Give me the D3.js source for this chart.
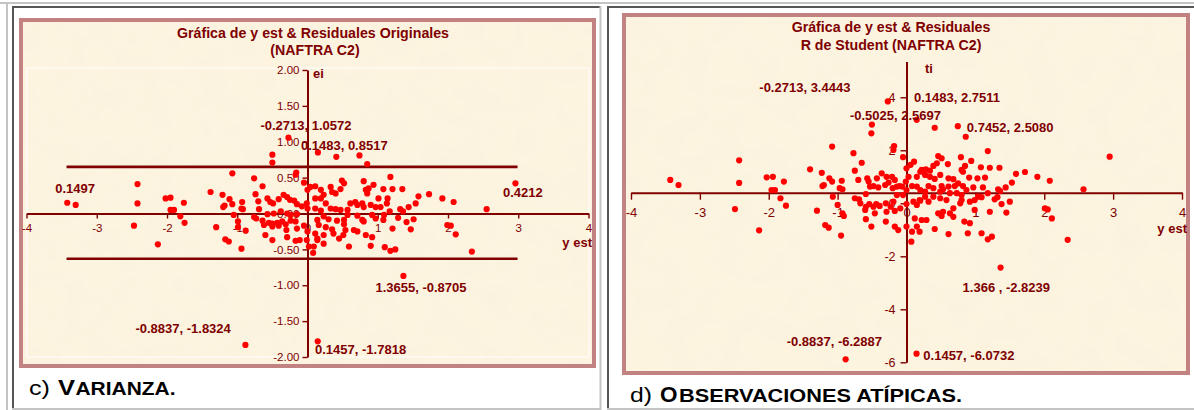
<!DOCTYPE html>
<html>
<head>
<meta charset="utf-8">
<script src="https://cdn.jsdelivr.net/npm/d3@7/dist/d3.min.js"></script>
<style>
  html, body { margin: 0; padding: 0; background: #ffffff; }
  svg { display: block; }
  text { font-family: "Liberation Sans", Arial, Helvetica, sans-serif; }
</style>
</head>
<body>
<svg id="page" width="1194" height="410"></svg>
<script>
// ---------------- data ----------------
const xTicks = [-4, -3, -2, -1, 0, 1, 2, 3, 4];
const residTicks = [-2, -1.5, -1, -0.5, 0, 0.5, 1, 1.5, 2];
const studentTicks = [-6.4, -4.4, -2.4, -0.4, 1.6, 3.6];
const residLimits = [0.65, -0.63];
const limitSpan = [-3.43, 2.99];

// y est vs ei (original residuals)
const residPts = [
  [-0.50,0.82],[-0.50,0.71],[-0.2713,1.0572],[0.1483,0.8517],[0.41,0.79],[0.74,0.81],[0.85,0.69],
  [-1.07,0.56],[-0.76,0.49],[-0.64,0.38],[-1.38,0.30],[-1.21,0.26],[-1.11,0.20],[-0.93,0.16],[-1.18,0.11],[-1.20,0.09],
  [-1.07,0.13],[-0.94,0.07],[-0.92,0.06],[-1.05,-0.02],[-0.99,-0.11],[-0.99,-0.19],[-0.88,-0.24],[-1.30,-0.19],
  [-1.17,-0.36],[-1.12,-0.39],[-0.94,-0.49],
  [-2.02,0.21],[-1.95,0.22],[-1.76,0.15],[-1.95,0.05],[-1.90,0.05],[-1.81,-0.04],[-1.75,-0.13],[-2.13,-0.43],
  [-0.74,0.27],[-0.70,0.17],[-0.57,0.21],[-0.53,0.16],[-0.49,0.14],[-0.41,0.20],[-0.34,0.26],[-0.29,0.23],[-0.25,0.19],
  [-0.19,0.18],[-0.15,0.13],[-0.16,0.57],[-0.17,0.54],[-0.05,0.43],
  [-0.69,0.06],[-0.57,-0.01],[-0.48,0.00],[-0.38,0.03],[-0.29,0.00],[-0.24,-0.02],[-0.15,-0.01],[-0.08,0.10],[-0.01,0.14],[0.00,0.07],
  [-0.76,-0.05],[-0.73,-0.07],[-0.64,-0.10],[-0.62,-0.16],[-0.55,-0.13],[-0.50,-0.14],[-0.43,-0.13],[-0.36,-0.11],
  [-0.31,-0.15],[-0.24,-0.10],[-0.17,-0.11],
  [-0.50,-0.18],[-0.41,-0.17],[-0.30,-0.23],[-0.15,-0.21],[-0.05,-0.17],
  [-0.60,-0.30],[-0.50,-0.37],[-0.29,-0.33],[-0.17,-0.38],[-0.11,-0.37],[-0.01,-0.37],[0.02,-0.46],[0.08,-0.55],
  [0.00,-0.25],[0.09,-0.46],[0.14,-0.37],[0.11,-0.28],
  [0.00,0.33],[0.04,0.37],[0.11,0.38],[0.19,0.33],[0.23,0.26],[0.33,0.37],[0.35,0.30],[0.40,0.28],[0.47,0.34],[0.49,0.46],[0.52,0.42],
  [0.11,0.21],[0.19,0.21],[0.26,0.14],[0.11,0.07],[0.19,0.04],[0.33,0.07],[0.40,0.06],[0.47,0.05],[0.57,0.05],[0.61,0.14],
  [0.14,-0.09],[0.23,-0.04],[0.30,-0.08],[0.42,-0.10],[0.52,-0.09],[0.57,-0.02],
  [0.16,-0.16],[0.26,-0.19],[0.35,-0.22],[0.52,-0.15],[0.54,-0.23],[0.51,-0.30],[0.45,-0.35],[0.37,-0.28],[0.23,-0.30],
  [0.14,-0.35],[0.23,-0.42],[0.59,-0.46],
  [0.83,0.33],[0.87,0.35],[0.85,0.28],[1.08,0.34],[1.21,0.34],[1.35,0.34],[1.58,0.24],[1.73,0.27],[1.92,0.21],[2.08,0.16],
  [0.68,0.16],[0.78,0.14],[0.71,0.12],[0.80,0.09],[0.90,0.12],[0.97,0.09],[1.04,0.09],[1.13,0.14],[1.17,0.03],[1.01,0.21],[1.14,0.21],
  [1.32,0.06],[1.36,0.03],[1.44,0.09],[1.54,0.14],[2.55,0.06],[2.96,0.4212],
  [0.80,0.45],[0.94,0.40],[1.18,0.51],
  [0.71,-0.03],[0.78,-0.09],[0.80,-0.11],[0.92,-0.02],[0.97,-0.07],[1.08,-0.09],[1.09,-0.02],[1.29,-0.06],[1.41,-0.12],
  [1.51,-0.08],[1.47,-0.22],[1.21,-0.21],
  [0.66,-0.23],[0.71,-0.25],[0.83,-0.30],[0.92,-0.33],[0.90,-0.45],[1.10,-0.47],[1.18,-0.52],[1.25,-0.50],
  [1.99,-0.16],[2.04,-0.17],[2.11,-0.29],[2.34,-0.53],
  [-3.42,0.1497],[-3.30,0.12],[-2.42,0.41],[-2.42,0.14],[-2.47,-0.17],
  [1.3655,-0.8705],[-0.8837,-1.8324],[0.1457,-1.7818]
];
const residNotes = [
  [-0.2713, 1.0572, "-0.2713, 1.0572"],
  [0.1483, 0.8517, "0.1483, 0.8517"],
  [-3.42, 0.1497, "0.1497"],
  [2.96, 0.4212, "0.4212"],
  [1.3655, -0.8705, "1.3655, -0.8705"],
  [-0.8837, -1.8324, "-0.8837, -1.8324"],
  [0.1457, -1.7818, "0.1457, -1.7818"]
];

// y est vs ti (studentized residuals)
const studentPts = [
  [-3.43,0.48],[-3.31,0.29],[-2.43,1.22],[-2.43,0.37],[-2.49,-0.62],[-2.03,0.58],[-1.94,0.60],[-1.78,0.42],[-1.96,0.10],
  [-1.91,0.10],[-1.83,-0.21],[-1.75,-0.49],[-2.14,-1.42],
  [-1.40,0.88],[-1.23,0.75],[-1.08,1.74],[-1.12,0.54],[-1.20,0.29],[-1.22,0.25],[-1.08,0.42],[-0.94,0.45],[-0.97,0.17],
  [-0.93,0.13],[-1.30,-0.68],[-1.18,-1.22],[-1.13,-1.32],[-0.95,-1.62],[-1.00,-0.46],[-0.93,-0.78],[-0.91,-0.88],[-1.07,-0.15],
  [-0.77,1.49],[-0.65,1.13],[-0.75,0.83],[-0.70,0.48],
  [-0.5025,2.5697],[-0.51,2.24],[-0.2713,3.4443],[0.1483,2.7511],
  [-0.18,1.76],[-0.19,1.61],[-0.05,1.34],[0.11,1.17],[0.06,1.05],[0.00,0.92],
  [-0.75,-0.21],[-0.69,-0.25],[-0.59,-0.05],[-0.53,0.23],[-0.57,0.54],[-0.43,0.54],[-0.36,0.73],[-0.29,0.60],[-0.21,0.60],
  [-0.17,0.48],[-0.14,0.23],
  [-0.55,0.42],[-0.48,0.25],[-0.41,0.20],[-0.31,0.29],[-0.26,0.38],[-0.20,0.17],[-0.10,0.25],[-0.06,0.23],
  [-0.01,0.42],[0.03,0.60],
  [-0.67,-0.40],[-0.59,-0.53],[-0.54,-0.43],[-0.48,-0.53],[-0.44,-0.43],[-0.39,-0.50],[-0.30,-0.40],[-0.23,-0.53],[-0.19,-0.34],
  [-0.60,-0.65],[-0.46,-0.78],[-0.29,-0.72],[-0.17,-0.69],[-0.09,-0.59],[0.00,-0.43],[-0.14,-0.09],[-0.05,-0.09],[0.00,0.10],
  [-0.59,-1.00],[-0.30,-1.09],[-0.17,-1.28],[-0.12,-1.41],[0.00,-1.28],[0.08,-1.47],[0.07,-1.85],
  [-0.51,-1.28],
  [0.15,-1.28],[0.12,-0.97],[0.19,-1.47],[0.15,-0.46],[0.19,-0.28],[0.10,-0.34],
  [0.08,0.25],[0.15,0.23],[0.15,0.60],
  [0.41,2.45],[0.7452,2.5080],[0.86,2.11],[1.18,1.57],
  [0.46,1.38],[0.51,1.30],[0.44,1.11],[0.39,1.01],[0.34,0.83],[0.28,0.88],[0.22,0.86],
  [0.60,1.08],
  [0.79,1.34],[0.94,1.20],[0.85,1.01],[0.80,0.86],[0.82,0.79],
  [1.08,0.96],[1.21,0.94],[1.35,0.94],
  [1.59,0.71],[1.72,0.78],[1.90,0.60],[2.08,0.45],[2.57,0.13],
  [0.49,0.67],[0.41,0.52],[0.34,0.60],[0.27,0.67],[0.20,0.79],
  [0.61,0.54],[0.68,0.51],[0.75,0.35],[0.70,0.25],[0.61,0.23],[0.53,0.13],[0.51,0.25],
  [0.91,0.57],[1.03,0.54],[1.14,0.57],[1.11,0.20],[0.97,0.20],[0.82,0.25],[0.87,0.10],
  [1.33,0.13],[1.44,0.20],[1.53,0.38],
  [1.18,-0.02],[1.09,-0.17],[1.28,-0.25],[1.38,-0.43],[1.45,-0.75],[1.21,-0.72],[0.99,-0.28],[0.92,-0.34],[1.04,-0.15],
  [2.01,-0.59],[2.05,-0.63],[2.11,-0.97],[2.34,-1.78],
  [0.61,-1.56],[0.89,-1.53],[1.09,-1.53],[1.18,-1.76],[1.24,-1.66],[0.92,-1.15],[0.84,-1.09],[0.68,-0.91],[0.63,-0.78],
  [0.41,-1.37],[0.51,-0.88],[0.46,-0.78],[0.53,-0.72],[0.29,-1.03],[0.22,-1.03],
  [0.68,-0.59],[0.78,-0.40],[0.80,-0.28],[0.58,-0.28],[0.49,-0.21],[0.39,-0.15],[0.32,-0.34],[0.27,-0.15],[0.20,-0.30],
  [0.20,0.10],[0.27,0.04],[0.32,0.25],[0.39,0.17],[0.49,0.04],[0.63,-0.02],[0.73,-0.02],[0.80,-0.09],
  [1.32,-0.17],[1.36,0.06],[1.50,-0.34],[0.99,-0.65],
  [2.95,1.36],
  [1.366,-2.8239],[-0.8837,-6.2887],[0.1457,-6.0732]
];
const studentNotes = [
  [-0.2713, 3.4443, "-0.2713, 3.4443"],
  [0.1483, 2.7511, "0.1483, 2.7511"],
  [-0.5025, 2.5697, "-0.5025, 2.5697"],
  [0.7452, 2.5080, "0.7452, 2.5080"],
  [1.366, -2.8239, "1.366 , -2.8239"],
  [-0.8837, -6.2887, "-0.8837, -6.2887"],
  [0.1457, -6.0732, "0.1457, -6.0732"]
];

// ---------------- layout & style ----------------
const MAROON = "#800000";
const DOT = "#ff0000";
const FRAME = "#c28282";
const LIGHT = "#c4c4c4";
const DARK = "#555555";

// offsets (px) of each value label relative to its point
const residNoteOffsets = [[-28,-7.6],[-17,-2.4],[-12,-10],[-12.5,13.4],[-28,15.7],[-110,-11.7],[-2.7,12.7]];
const studentNoteOffsets = [[-128.5,-9.7],[-2.7,-18],[-22,-4.6],[9,5.5],[-38,24],[-59,-13.6],[6.8,6.4]];

const svg = d3.select("#page");

// parchment texture for the chart areas
const defs = svg.append("defs");
const f = defs.append("filter").attr("id", "parchment")
  .attr("x", 0).attr("y", 0).attr("width", 1).attr("height", 1);
f.append("feTurbulence").attr("type", "fractalNoise").attr("baseFrequency", 0.035)
  .attr("numOctaves", 4).attr("seed", 7).attr("result", "noise");
f.append("feColorMatrix").attr("type", "matrix")
  .attr("values", "0 0 0 0 0.93  0 0 0 0 0.86  0 0 0 0 0.72  1.1 0 0 0 -0.45");

// table borders around the two cells
const rules = [
  [0, 3, 1194, 3, LIGHT], [7, 2, 7, 410, LIGHT],
  [12, 7, 601, 7, DARK], [13, 6, 13, 410, DARK], [600.5, 6, 600.5, 410, LIGHT], [12, 409, 601, 409, LIGHT],
  [607, 7, 1194, 7, DARK], [608, 6, 608, 410, DARK], [607, 409, 1194, 409, LIGHT]
];
svg.append("g").selectAll("line").data(rules).join("line")
  .attr("x1", d => d[0]).attr("y1", d => d[1]).attr("x2", d => d[2]).attr("y2", d => d[3])
  .attr("stroke", d => d[4]).attr("stroke-width", 2);

function chartFrame(x, y, w, h) {
  const g = svg.append("g");
  g.append("rect").attr("x", x).attr("y", y).attr("width", w).attr("height", h).attr("fill", "#fdf4e0");
  g.append("rect").attr("x", x).attr("y", y).attr("width", w).attr("height", h)
    .attr("fill", "#000").attr("filter", "url(#parchment)");
  g.append("rect").attr("x", x).attr("y", y).attr("width", w).attr("height", h)
    .attr("fill", "none").attr("stroke", FRAME).attr("stroke-width", 4);
  return g;
}

function styleAxis(sel, size) {
  sel.select(".domain").attr("stroke", MAROON).attr("stroke-width", 2);
  sel.selectAll(".tick line").attr("stroke", MAROON).attr("stroke-width", 1.4);
  sel.selectAll(".tick text").attr("fill", MAROON)
    .style("font-size", size + "px").style("font-family", '"Liberation Sans", Arial, sans-serif');
}

function title(g, lines) {
  lines.forEach(([t, x, y]) => {
    g.append("text").attr("x", x).attr("y", y).attr("text-anchor", "middle")
      .attr("fill", MAROON).style("font-weight", "bold").style("font-size", "14.2px").text(t);
  });
}

function boldLabel(g, t, x, y, anchor) {
  g.append("text").attr("x", x).attr("y", y).attr("text-anchor", anchor || "start")
    .attr("fill", MAROON).style("font-weight", "bold").style("font-size", "13px").text(t);
}

function dots(g, pts, sx, sy) {
  g.append("g").selectAll("circle").data(pts).join("circle")
    .attr("cx", d => sx(d[0])).attr("cy", d => sy(d[1])).attr("r", 3.1).attr("fill", DOT);
}

function notes(g, list, offs, sx, sy) {
  list.forEach((d, i) => boldLabel(g, d[2], sx(d[0]) + offs[i][0], sy(d[1]) + offs[i][1]));
}

// ---------- chart c: y est vs original residuals ----------
{
  const g = chartFrame(21, 20, 573, 346);
  g.append("rect").attr("x", 27).attr("y", 68).attr("width", 562).attr("height", 289)
    .attr("fill", "none").attr("stroke", "#ffffff").attr("stroke-opacity", 0.85).attr("stroke-width", 1.2);

  const x = d3.scaleLinear().domain([-4, 4]).range([26.5, 588.5]);
  const y = d3.scaleLinear().domain([-2, 2]).range([357, 70]);

  title(g, [["Gráfica de y est & Residuales Originales", 313, 37.5], ["(NAFTRA C2)", 315, 55]]);

  const ax = g.append("g").attr("transform", `translate(0,${y(0)})`)
    .call(d3.axisBottom(x).tickValues(xTicks).tickSize(5).tickPadding(5).tickSizeOuter(0).tickFormat(d => String(d)));
  styleAxis(ax, 11.5);
  const ay = g.append("g").attr("transform", `translate(${x(0)},0)`)
    .call(d3.axisLeft(y).tickValues(residTicks).tickSize(5).tickPadding(3).tickSizeOuter(0).tickFormat(d => d.toFixed(2)));
  styleAxis(ay, 11.5);

  boldLabel(g, "ei", 313, 78);
  boldLabel(g, "y est", 592, 247, "end");

  // control limits
  g.append("g").selectAll("line").data(residLimits).join("line")
    .attr("x1", x(limitSpan[0])).attr("x2", x(limitSpan[1]))
    .attr("y1", d => y(d)).attr("y2", d => y(d))
    .attr("stroke", MAROON).attr("stroke-width", 2.6);

  dots(g, residPts, x, y);
  notes(g, residNotes, residNoteOffsets, x, y);
}

// ---------- chart d: y est vs R-Student ----------
{
  const g = chartFrame(624, 15, 564, 358);
  const x = d3.scaleLinear().domain([-4, 4]).range([631, 1182]);
  const y = d3.scaleLinear().domain([-6.4, 4.95]).range([362.3, 61.5]);

  title(g, [["Gráfica de y est & Residuales", 891, 32], ["R de Student (NAFTRA C2)", 891, 50]]);

  const ax = g.append("g").attr("transform", `translate(0,${y(0)})`)
    .call(d3.axisBottom(x).tickValues(xTicks).tickSize(7).tickPadding(8).tickSizeOuter(0).tickFormat(d => String(d)));
  styleAxis(ax, 13);
  const ay = g.append("g").attr("transform", `translate(${x(0)},0)`)
    .call(d3.axisLeft(y).tickValues(studentTicks).tickSize(6).tickPadding(5).tickSizeOuter(0)
      .tickFormat(d => String(Math.round(d))));
  styleAxis(ay, 12.5);

  boldLabel(g, "ti", 925, 73);
  boldLabel(g, "y est", 1187, 233, "end");

  dots(g, studentPts, x, y);
  notes(g, studentNotes, studentNoteOffsets, x, y);
}

// ---------- captions (small caps drawn as two sizes) ----------
function caption(parts) {
  parts.forEach(([t, x, y, size, weight, len]) => {
    const el = svg.append("text").attr("x", x).attr("y", y).attr("fill", "#000")
      .style("font-size", size + "px").style("font-weight", weight).text(t);
    if (len) el.attr("textLength", len).attr("lengthAdjust", "spacingAndGlyphs");
  });
}
caption([["c)", 29, 395, 21, "normal", 21], ["V", 58, 395, 22.5, "bold", 17], ["ARIANZA.", 75.5, 395, 17.5, "bold", 100]]);
caption([["d)", 630, 402, 21, "normal", 22], ["O", 660, 402, 22.5, "bold", 0], ["BSERVACIONES ATÍPICAS.", 679, 402, 17.5, "bold", 283]]);
</script>
</body>
</html>
